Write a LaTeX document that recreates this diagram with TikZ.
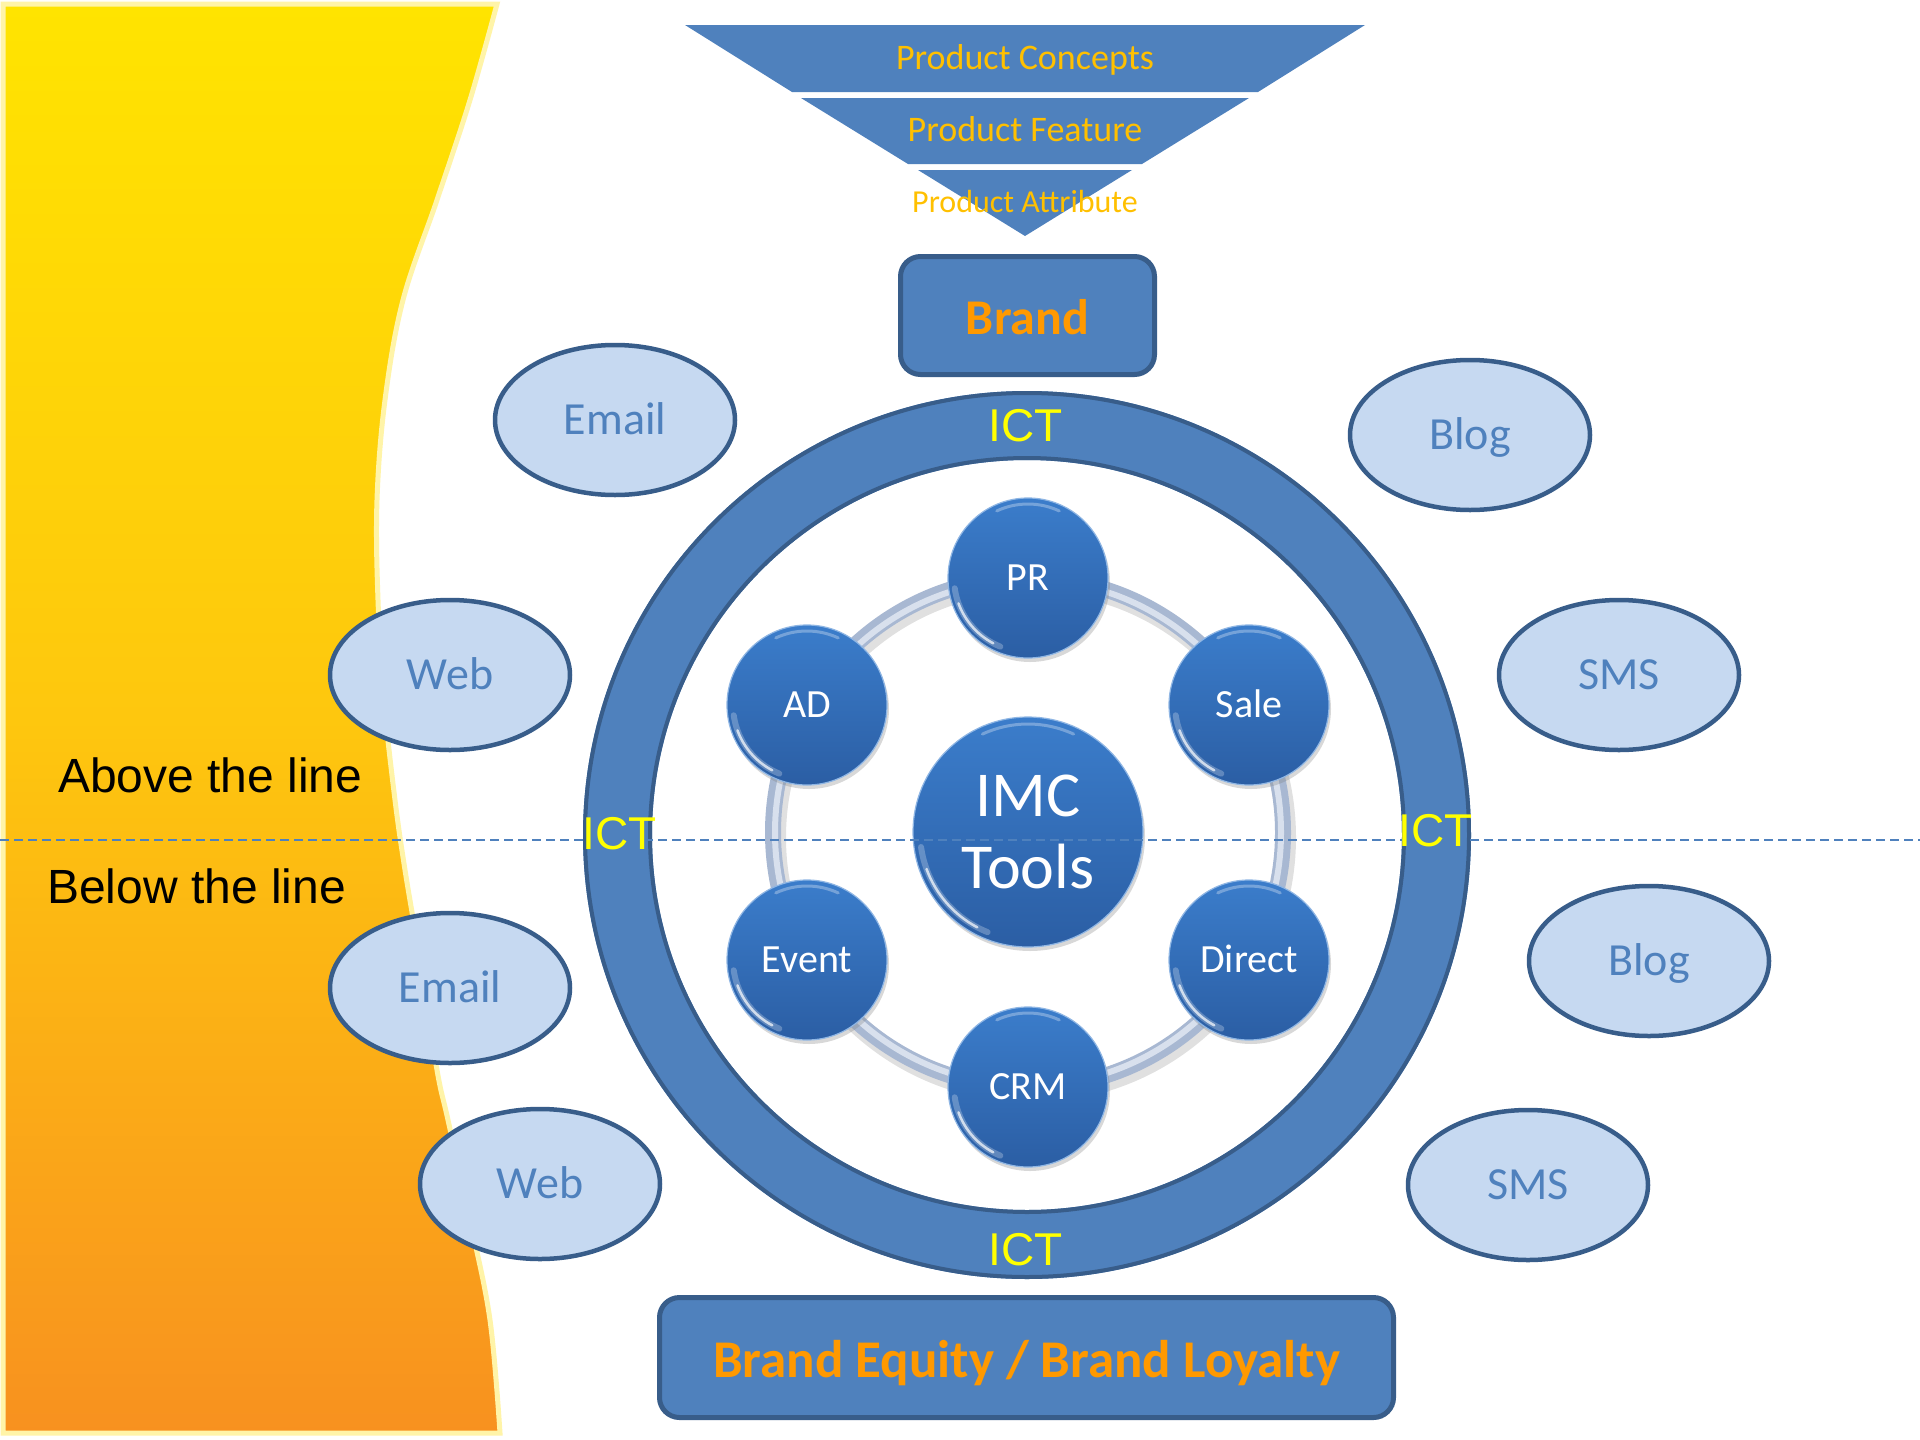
\documentclass[tikz,border=0pt]{standalone}
\usepackage{fontspec}
\setmainfont{Carlito}
\newfontfamily\arialf{Liberation Sans}
\usetikzlibrary{shapes.geometric,shadows,calc}
\definecolor{fblue}{HTML}{4F81BD}
\definecolor{bblue}{HTML}{385D8A}
\definecolor{gold}{HTML}{FFC000}
\definecolor{orng}{HTML}{FF9900}
\definecolor{ictyel}{HTML}{FFFF00}
\definecolor{ellfill}{HTML}{C6D9F1}
\definecolor{balltop}{HTML}{3B7DCB}
\definecolor{ballbot}{HTML}{2B5EA4}
\definecolor{ballrim}{HTML}{8FB6E4}
\definecolor{pipe}{HTML}{A8B8D2}
\definecolor{pipehl}{HTML}{D8E0ED}
\definecolor{bandtop}{HTML}{FFE400}
\definecolor{bandmid}{HTML}{FEC70E}
\definecolor{bandbot}{HTML}{F8911F}
\definecolor{bandedge}{HTML}{FFF4A8}
\newcommand\ballglint[2]{%
  \draw[white, opacity=.25, line width=6, line cap=round] ([shift={(112:#2)}]#1.center) arc[start angle=112, end angle=172, radius=#2];
  \draw[white, opacity=.7, line width=2.5, line cap=round] ([shift={(118:#2)}]#1.center) arc[start angle=118, end angle=160, radius=#2];
  \draw[white, opacity=.3, line width=3, line cap=round] ([shift={(245:#2)}]#1.center) arc[start angle=245, end angle=295, radius=#2];
}
\begin{document}
\begin{tikzpicture}[x=1pt,y=-1pt,
  funnel/.style={fill=fblue},
  ftext/.style={text=gold, font=\fontsize{#1}{#1}\selectfont, text height=0.644*#1, text depth=0pt, inner sep=0},
  boxst/.style={rounded corners=20, draw=bblue, line width=5, fill=fblue, text=orng, inner sep=0},
  ell/.style={ellipse, draw=bblue, line width=4.5, fill=ellfill, minimum width=240, minimum height=150, inner sep=0, text=fblue, font=\fontsize{46}{46}\selectfont, text height=29.6pt, text depth=0pt},
  ball/.style={circle, inner sep=0, minimum size=#1, top color=balltop, bottom color=ballbot, draw=ballrim, line width=1.2, text=white, drop shadow={opacity=0.3, shadow xshift=2pt, shadow yshift=-4pt}},
  balltext/.style={font=\fontsize{40}{40}\selectfont, text height=25.8pt, text depth=0pt},
  ict/.style={text=ictyel, font=\arialf\fontsize{46}{46}\selectfont, text height=33pt, text depth=0pt, inner sep=0},
  side/.style={text=black, font=\arialf\fontsize{48}{48}\selectfont, text height=34.4pt, text depth=0pt, inner sep=0, anchor=west}
]
\useasboundingbox (0,0) rectangle (1920,1440);
\fill[white] (0,0) rectangle (1920,1440);

% left band
\path[draw=bandedge, line width=5, top color=bandtop, bottom color=bandbot, middle color=bandmid]
  (3,4) -- plot[smooth, tension=0.6] coordinates {(497,4) (470,100) (437,200) (403,300) (385,400) (377,500) (378,600) (384,700) (395,800) (405,870) (420,960) (437,1070) (448,1120) (470,1220) (490,1320) (500,1433)} -- (3,1433) -- cycle;

% funnel
\fill[funnel] (685,25) -- (1365,25) -- (1258,92) -- (792,92) -- cycle;
\fill[funnel] (801,98) -- (1249,98) -- (1142,164) -- (908,164) -- cycle;
\fill[funnel] (918,170) -- (1132,170) -- (1025,236) -- cycle;
\node[ftext=36] (pc) at (1025,58) {Product Concepts};
\node[ftext=36] (pf) at (1025,130) {Product Feature};
\node[ftext=32] (pa) at (1025,202) {Product Attribute};

% brand boxes
\node[boxst, minimum width=254, minimum height=118, font=\bfseries\fontsize{50}{50}\selectfont, text height=32.2pt, text depth=0pt] (brand) at (1027.5,315.5) {\raisebox{-3pt}{Brand}};
\node[boxst, minimum width=734, minimum height=120, font=\bfseries\fontsize{53}{53}\selectfont, text height=34.1pt, text depth=0pt] (equity) at (1026.5,1357.5) {\raisebox{-3pt}{Brand Equity / Brand Loyalty}};

% ellipses
\node[ell] (email1) at (615,420) {Email};
\node[ell] (web1) at (450,675) {Web};
\node[ell] (email2) at (450,988) {Email};
\node[ell] (web2) at (540,1184) {Web};
\node[ell] (blog1) at (1470,435) {Blog};
\node[ell] (sms1) at (1619,675) {SMS};
\node[ell] (blog2) at (1649,961) {Blog};
\node[ell] (sms2) at (1528,1185) {SMS};

% ICT ring
\coordinate (rc) at (1027,835);
\fill[fblue, even odd rule] (rc) circle[radius=444] (rc) circle[radius=375];
\draw[bblue, line width=4] (rc) circle[radius=442] (rc) circle[radius=377];

% pipe ring
\coordinate (hc) at (1028,832.5);
\draw[black, opacity=.12, line width=20] ([shift={(3,5)}]hc) circle[radius=255];
\draw[pipe, line width=16] (hc) circle[radius=255];
\draw[pipehl, line width=6] (hc) circle[radius=253];

% balls
\node[ball=160, balltext] (pr) at (1028,578) {PR};
\node[ball=160, balltext] (ad) at (807,705) {AD};
\node[ball=160, balltext] (sale) at (1249,705) {Sale};
\node[ball=160, balltext] (event) at (807,960) {Event};
\node[ball=160, balltext] (direct) at (1249,960) {Direct};
\node[ball=160, balltext] (crm) at (1028,1087) {CRM};
\node[ball=230, align=center, font=\fontsize{64}{72}\selectfont, text height=113.2pt, text depth=0pt] (imc) at (1028,832) {IMC\\Tools};
\foreach \n in {pr,ad,sale,event,direct,crm} {\ballglint{\n}{74}}
\ballglint{imc}{108}

% dashed divider
\coordinate (dl) at (0,840);
\coordinate (dr) at (1920,840);
\draw[fblue, line width=1.6, dash pattern=on 9pt off 5pt] (dl) -- (dr);

% ICT labels
\node[ict] (ictt) at (1026,425) {ICT};
\node[ict] (ictb) at (1026,1249) {ICT};
\node[ict] (ictl) at (620,833) {ICT};
\node[ict] (ictr) at (1436,830) {ICT};

% side labels
\node[side] (above) at (58,775) {Above the line};
\node[side] (below) at (47,886) {Below the line};
\end{tikzpicture}
\end{document}
